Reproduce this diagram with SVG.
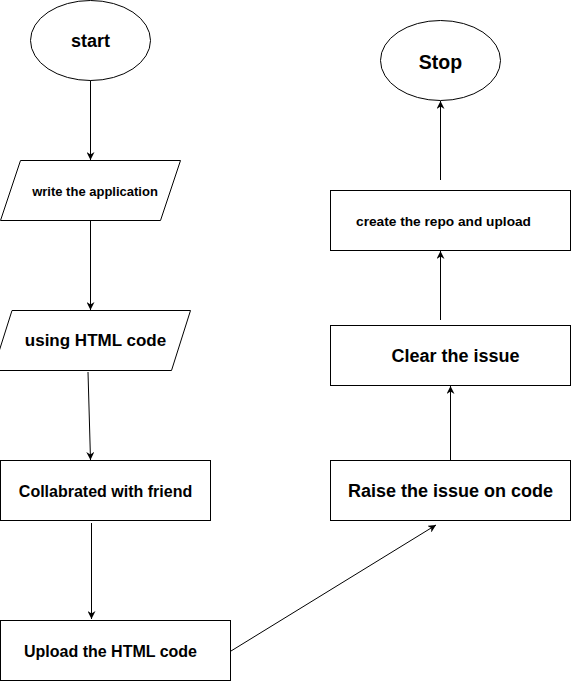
<svg xmlns="http://www.w3.org/2000/svg" width="571" height="682" viewBox="0 0 571 682">
<defs>
<style>
.s{fill:#fff;stroke:#000;stroke-width:1}
.t{font-family:"Liberation Sans",Arial,sans-serif;font-weight:bold;fill:#000;text-anchor:middle;dominant-baseline:central}
.c{fill:none;stroke:#000;stroke-width:1}
</style>
<marker id="ah" viewBox="0 0 10 10" refX="10" refY="5" markerWidth="8" markerHeight="8" markerUnits="userSpaceOnUse" orient="auto">
<path d="M0,0 L10,5 L0,10 L3,5 z" fill="#000"/>
</marker>
</defs>
<rect width="571" height="682" fill="#fff"/>
<g id="connectors">
<line class="c" x1="90.5" y1="80" x2="90.5" y2="160" marker-end="url(#ah)"/>
<line class="c" x1="90.5" y1="220" x2="90.5" y2="310" marker-end="url(#ah)"/>
<line class="c" x1="88" y1="372" x2="90.5" y2="460" marker-end="url(#ah)"/>
<line class="c" x1="91.5" y1="523" x2="91.5" y2="619" marker-end="url(#ah)"/>
<line class="c" x1="231" y1="651" x2="436" y2="525" marker-end="url(#ah)"/>
<line class="c" x1="450.5" y1="460" x2="450.5" y2="386" marker-end="url(#ah)"/>
<line class="c" x1="440.5" y1="320" x2="440.5" y2="251" marker-end="url(#ah)"/>
<line class="c" x1="440.5" y1="180" x2="440.5" y2="101" marker-end="url(#ah)"/>
</g>
<g id="start">
<ellipse class="s" cx="90.5" cy="40.5" rx="60" ry="40"/>
<text class="t" x="90.5" y="41" font-size="18">start</text>
</g>
<g id="write">
<polygon class="s" points="20.5,160.5 180.5,160.5 160.5,220.5 0.5,220.5"/>
<text class="t" x="95" y="191" font-size="13">write the application</text>
</g>
<g id="html">
<polygon class="s" points="12,310.5 190.5,310.5 171.5,370.5 -7,370.5"/>
<text class="t" x="95.5" y="340.5" font-size="17">using HTML code</text>
</g>
<g id="collab">
<rect class="s" x="0.5" y="460.5" width="210" height="60"/>
<text class="t" x="105.5" y="491" font-size="16">Collabrated with friend</text>
</g>
<g id="upload">
<rect class="s" x="0.5" y="620.5" width="230" height="60"/>
<text class="t" x="110.5" y="651.5" font-size="16">Upload the HTML code</text>
</g>
<g id="raise">
<rect class="s" x="330.5" y="460.5" width="240" height="60"/>
<text class="t" x="450.5" y="491" font-size="18">Raise the issue on code</text>
</g>
<g id="clear">
<rect class="s" x="330.5" y="325.5" width="240" height="60"/>
<text class="t" x="455.5" y="355.5" font-size="18">Clear the issue</text>
</g>
<g id="create">
<rect class="s" x="330.5" y="190.5" width="240" height="60"/>
<text class="t" x="443.5" y="221.5" font-size="13.7">create the repo and upload</text>
</g>
<g id="stop">
<ellipse class="s" cx="440.5" cy="60.5" rx="60" ry="40"/>
<text class="t" x="440.5" y="62" font-size="19.5">Stop</text>
</g>
</svg>
